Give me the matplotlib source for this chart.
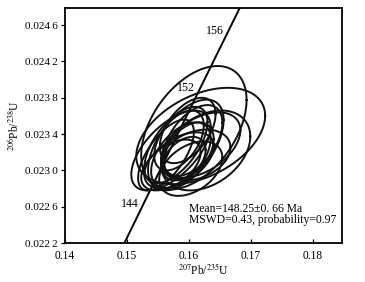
import numpy as np
import matplotlib
matplotlib.use("Agg")
import matplotlib.pyplot as plt
from matplotlib.ticker import FuncFormatter

plt.rcParams['font.family'] = ['Liberation Serif', 'DejaVu Serif']
plt.rcParams['mathtext.fontset'] = 'stix'

# error ellipses: centre (207/235, 206/238), half-widths and correlation
cx = [0.1608, 0.1619, 0.1627, 0.1571, 0.1595, 0.1587, 0.1600, 0.1584, 0.1606,
      0.1579, 0.1611, 0.1592, 0.1571, 0.1619, 0.1598, 0.1563, 0.1603, 0.1584]
cy = [0.02347, 0.02338, 0.02322, 0.02322, 0.02328, 0.02317, 0.02322, 0.02311, 0.02333,
      0.02328, 0.02317, 0.02313, 0.02306, 0.02328, 0.02344, 0.02317, 0.02302, 0.02333]
sx = [0.0085, 0.0104, 0.0072, 0.0064, 0.0061, 0.0048, 0.0040, 0.0056, 0.0048,
      0.0051, 0.0056, 0.0035, 0.0048, 0.0064, 0.0045, 0.0045, 0.0051, 0.0040]
sy = [0.00068, 0.00053, 0.00044, 0.00044, 0.00050, 0.00036, 0.00031, 0.00031, 0.00039,
      0.00042, 0.00028, 0.00024, 0.00028, 0.00036, 0.00036, 0.00039, 0.00030, 0.00033]
rho = [0.45, 0.42, 0.35, 0.60, 0.55, 0.50, 0.40, 0.50, 0.50,
       0.60, 0.30, 0.40, 0.50, 0.45, 0.50, 0.65, 0.40, 0.50]

label_ages = [144, 152, 156]
xticks = [0.14, 0.15, 0.16, 0.17, 0.18]
yticks = [0.0222, 0.0226, 0.0230, 0.0234, 0.0238, 0.0242, 0.0246]

# decay constants (per year)
l238 = 1.55125e-10
l235 = 9.8485e-10

def concordia(t_ma):
    t = np.asarray(t_ma) * 1e6
    return np.exp(l235 * t) - 1, np.exp(l238 * t) - 1

def ytick_fmt(v, pos):
    s = f"{v:.4f}"
    return s[:-1] + "\u2009" + s[-1]

fig = plt.figure(figsize=(3.65, 2.82), dpi=100)
ax = fig.add_axes([0.178, 0.138, 0.759, 0.834])

# concordia curve
t = np.linspace(139, 160, 200)
x207, y206 = concordia(t)
ax.plot(x207, y206, color='black', lw=1.4)
for age in label_ages:
    xa, ya = concordia(age)
    ax.annotate(str(age), (xa, ya), xytext=(-8.5, 3), textcoords='offset points',
                ha='center', va='center', fontsize=8.6)

# ellipses
th = np.linspace(0, 2 * np.pi, 200)
for x0, y0, a, b, r in zip(cx, cy, sx, sy, rho):
    ex = x0 + a * np.cos(th)
    ey = y0 + b * (r * np.cos(th) + np.sqrt(1 - r ** 2) * np.sin(th))
    ax.plot(ex, ey, color='#111111', lw=1.4)

ax.set_xlim(0.14, 0.1847)
ax.set_ylim(0.0222, 0.02479)
ax.set_xticks(xticks)
ax.set_yticks(yticks)
ax.xaxis.set_major_formatter(FuncFormatter(lambda v, p: f"{v:.2f}"))
ax.yaxis.set_major_formatter(FuncFormatter(ytick_fmt))
ax.tick_params(axis='x', direction='in', length=3, width=0.9, labelsize=8.3, pad=5)
ax.tick_params(axis='y', direction='out', length=3, width=0.9, labelsize=8.1, pad=2)
for s in ax.spines.values():
    s.set_linewidth(1.3)

ax.set_xlabel(r'$^{207}$Pb/$^{235}$U', fontsize=8.3, labelpad=0)
ax.set_ylabel(r'$^{206}$Pb/$^{238}$U', fontsize=8.3, labelpad=3)

ax.text(0.448, 0.145, 'Mean=148.25±0. 66 Ma', transform=ax.transAxes,
        fontsize=8.4, ha='left', va='center')
ax.text(0.448, 0.098, 'MSWD=0.43, probability=0.97', transform=ax.transAxes,
        fontsize=8.4, ha='left', va='center')

fig.savefig('out.png', dpi=100)
